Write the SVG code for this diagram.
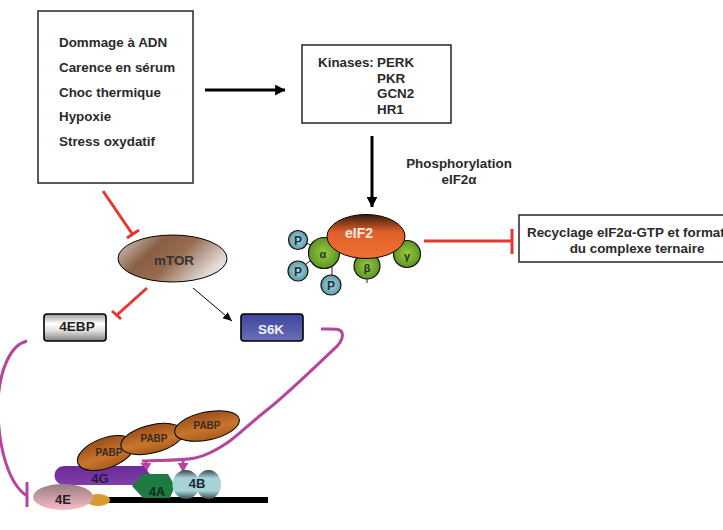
<svg xmlns="http://www.w3.org/2000/svg" width="723" height="530" viewBox="0 0 723 530">
<style>
text{font-family:"Liberation Sans",Arial,sans-serif;font-weight:bold}
.box{fill:#fff;stroke:#333;stroke-width:1.6}
.t{font-size:13.4px;fill:#2a2a2a}
.c{text-anchor:middle}
.red{fill:none;stroke:#e8352e;stroke-width:3}
.mag{fill:none;stroke:#b5459d;stroke-width:3}
.thin{fill:none;stroke:#222;stroke-width:1}
.sub{stroke:#111;stroke-width:1.2}
.m{font-size:11px;fill:#22303a;text-anchor:middle}
.p{font-size:12px;fill:#1f2f3f;text-anchor:middle}
.pabp{fill:url(#brown);stroke:#000;stroke-width:1}
.pl{font-size:10px;fill:#3a2a20;text-anchor:middle}
</style>
<defs>
<linearGradient id="grayBar" x1="0" y1="0" x2="0" y2="1"><stop offset="0" stop-color="#9a9a9a"/><stop offset=".35" stop-color="#fff"/><stop offset=".6" stop-color="#e4e4e4"/><stop offset="1" stop-color="#808080"/></linearGradient>
<linearGradient id="blue" x1="0" y1="0" x2="0" y2="1"><stop offset="0" stop-color="#3f459a"/><stop offset="1" stop-color="#6a6fb8"/></linearGradient>
<linearGradient id="mtor" x1="0" y1="0" x2="1" y2=".45"><stop offset="0" stop-color="#ded6d2"/><stop offset=".38" stop-color="#8a5f43"/><stop offset=".62" stop-color="#966b50"/><stop offset="1" stop-color="#e4dcd8"/></linearGradient>
<linearGradient id="orange" x1="0" y1="0" x2="0" y2="1"><stop offset="0" stop-color="#3a1c0c"/><stop offset=".4" stop-color="#e0602a"/><stop offset="1" stop-color="#f07030"/></linearGradient>
<radialGradient id="green" cx=".5" cy=".5" r=".6"><stop offset="0" stop-color="#9ccb3c"/><stop offset="1" stop-color="#4f8a20"/></radialGradient>
<radialGradient id="cyan" cx=".5" cy=".5" r=".6"><stop offset="0" stop-color="#a8dbe0"/><stop offset="1" stop-color="#4f8f98"/></radialGradient>
<linearGradient id="brown" x1="0" y1="0" x2="0" y2="1"><stop offset="0" stop-color="#9a4f1a"/><stop offset=".6" stop-color="#c9762c"/><stop offset="1" stop-color="#a85a1c"/></linearGradient>
<linearGradient id="purple" x1="0" y1="0" x2="0" y2="1"><stop offset="0" stop-color="#6b2a96"/><stop offset="1" stop-color="#7f3ea8"/></linearGradient>
<linearGradient id="teal" x1="0" y1="0" x2="0" y2="1"><stop offset="0" stop-color="#38484c"/><stop offset=".28" stop-color="#a5d3d8"/><stop offset=".72" stop-color="#a5d3d8"/><stop offset="1" stop-color="#38484c"/></linearGradient>
<linearGradient id="pink" x1="0" y1="0" x2="0" y2="1"><stop offset="0" stop-color="#9a7c82"/><stop offset="1" stop-color="#f6bcc8"/></linearGradient>
<marker id="ah" markerWidth="4" markerHeight="4" refX="3.3" refY="1.8" orient="auto" markerUnits="strokeWidth"><path d="M0 0L3.4 1.8L0 3.6z" fill="#000"/></marker>
<marker id="ahs" markerWidth="11" markerHeight="11" refX="9" refY="4" orient="auto" markerUnits="strokeWidth"><path d="M0 0L9 4L0 8z" fill="#000"/></marker>
<marker id="mh" markerWidth="4" markerHeight="4" refX="3" refY="1.8" orient="auto" markerUnits="strokeWidth"><path d="M0 0L3 1.8L0 3.6z" fill="#b5459d"/></marker>
</defs>

<g id="connectors">
  <path d="M205 90H285" stroke="#000" stroke-width="3" fill="none" marker-end="url(#ah)"/>
  <path d="M372 136V207" stroke="#000" stroke-width="3" fill="none" marker-end="url(#ah)"/>
  <path class="red" d="M103 191L133 235M127 238L139 230"/>
  <path class="red" d="M147 288L117 315M112 311L121 319"/>
  <path d="M193 288L232 321" stroke="#000" stroke-width="1" fill="none" marker-end="url(#ahs)"/>
  <path class="red" d="M424 241H511M512 229V254"/>
  <path class="mag" d="M27 341C10 345 0 370 -2 400C-3 450 10 485 27 496M27 482V507"/>
  <path class="mag" d="M321 329C333 329 341 328 342 333C344 339 338 346 333 350C310 372 285 396 267 410C250 423 238 436 227 443C215 451 205 456 195 458C178 461 160 460 142 461"/>
  <path class="mag" stroke-width="2.4" d="M146 461V472" marker-end="url(#mh)"/>
  <path class="mag" stroke-width="2.4" d="M183 461V472" marker-end="url(#mh)"/>
</g>

<g id="stress"><rect class="box" x="38" y="11" width="155" height="172"/>
  <text class="t" x="59" y="47">Dommage à ADN</text><text class="t" x="59" y="72">Carence en sérum</text><text class="t" x="59" y="97">Choc thermique</text><text class="t" x="59" y="121">Hypoxie</text><text class="t" x="59" y="146">Stress oxydatif</text></g>
<g id="kinases"><rect class="box" x="302" y="45" width="149" height="78"/>
  <text class="t" x="318" y="67">Kinases:</text><text class="t" x="377" y="67">PERK</text><text class="t" x="377" y="83">PKR</text><text class="t" x="377" y="98">GCN2</text><text class="t" x="377" y="114">HR1</text></g>
<g id="phospho"><text class="t c" x="459" y="168">Phosphorylation</text><text class="t c" x="459" y="184">eIF2α</text></g>
<g id="recycle"><rect class="box" x="519" y="215" width="220" height="47"/>
  <text class="t" x="527" y="237">Recyclage eIF2α-GTP et formation</text><text class="t c" x="637" y="253">du complexe ternaire</text></g>
<g id="mtor-node"><ellipse cx="172.5" cy="258.5" rx="54.5" ry="23.5" fill="url(#mtor)" stroke="#000"/><text class="c" x="174" y="265" font-size="13.4" fill="#333">mTOR</text></g>
<g id="ebp"><rect x="44" y="314" width="62" height="27" rx="3" fill="url(#grayBar)" stroke="#000" stroke-width="1.6"/><text class="c" x="77" y="331" font-size="13.6" fill="#222">4EBP</text></g>
<g id="s6k"><rect x="241" y="314" width="62" height="27" rx="3" fill="url(#blue)" stroke="#000" stroke-width="1.6"/><text class="c" x="271" y="334" font-size="13.4" fill="#eef">S6K</text></g>

<g id="eif2">
  <path class="thin" d="M306 243L318 248M305 265L315 257M332 265V276M367 279V283"/>
  <g id="alpha"><circle cx="324" cy="253" r="15.5" fill="url(#green)" class="sub"/><text x="323" y="258" class="m">α</text></g>
  <g id="beta"><circle cx="367" cy="266" r="13" fill="url(#green)" class="sub"/><text x="367" y="272" class="m">β</text></g>
  <g id="gamma"><circle cx="407" cy="254" r="13.5" fill="url(#green)" class="sub"/><text x="407" y="260" class="m">γ</text></g>
  <ellipse cx="366" cy="236.5" rx="39" ry="22" fill="url(#orange)" stroke="#000"/>
  <text class="c" x="359" y="238" font-size="14" fill="#f6e8e0">eIF2</text>
  <g id="p1"><circle cx="298" cy="240" r="9.5" fill="url(#cyan)" class="sub"/><text x="298" y="244.500" class="p">P</text></g>
  <g id="p2"><circle cx="298" cy="271" r="10" fill="url(#cyan)" class="sub"/><text x="298" y="275.500" class="p">P</text></g>
  <g id="p3"><circle cx="331" cy="285" r="10" fill="url(#cyan)" class="sub"/><text x="331" y="289.500" class="p">P</text></g>
</g>

<g id="mrna"><rect x="108" y="497" width="160" height="6" fill="#000"/><ellipse cx="98" cy="500" rx="12" ry="6" fill="#d89a2c"/></g>
<g id="f4g"><path d="M65 466H143L150 474L133 485H65C51 485 51 466 65 466Z" fill="url(#purple)"/><text class="c" x="100" y="483" font-size="13" fill="#2a1a40">4G</text></g>
<g id="pabp1"><ellipse cx="106" cy="453" rx="30" ry="15" transform="rotate(-20 106 453)" class="pabp"/><text x="109" y="456" class="pl">PABP</text></g>
<g id="pabp2"><ellipse cx="152" cy="439" rx="32" ry="14" transform="rotate(-14 152 439)" class="pabp"/><text x="154" y="442" class="pl">PABP</text></g>
<g id="pabp3"><ellipse cx="207" cy="426" rx="33" ry="14" transform="rotate(-12 207 426)" class="pabp"/><text x="207" y="429" class="pl">PABP</text></g>
<g id="f4a"><path d="M132 486L143 474H168L175 486L170 498H143Z" fill="#1d7a40"/><text class="c" x="157" y="496" font-size="12.5" fill="#0d2a18">4A</text></g>
<g id="f4b"><ellipse cx="208.500" cy="484.500" rx="12.500" ry="14.500" fill="url(#teal)"/><ellipse cx="186" cy="484.500" rx="13.500" ry="14.500" fill="url(#teal)"/><text class="c" x="197" y="488" font-size="13" fill="#1a2a2e">4B</text></g>
<g id="f4e"><ellipse cx="63" cy="497" rx="30" ry="13" fill="url(#pink)"/><text class="c" x="63" y="504" font-size="13" fill="#222">4E</text></g>
</svg>
